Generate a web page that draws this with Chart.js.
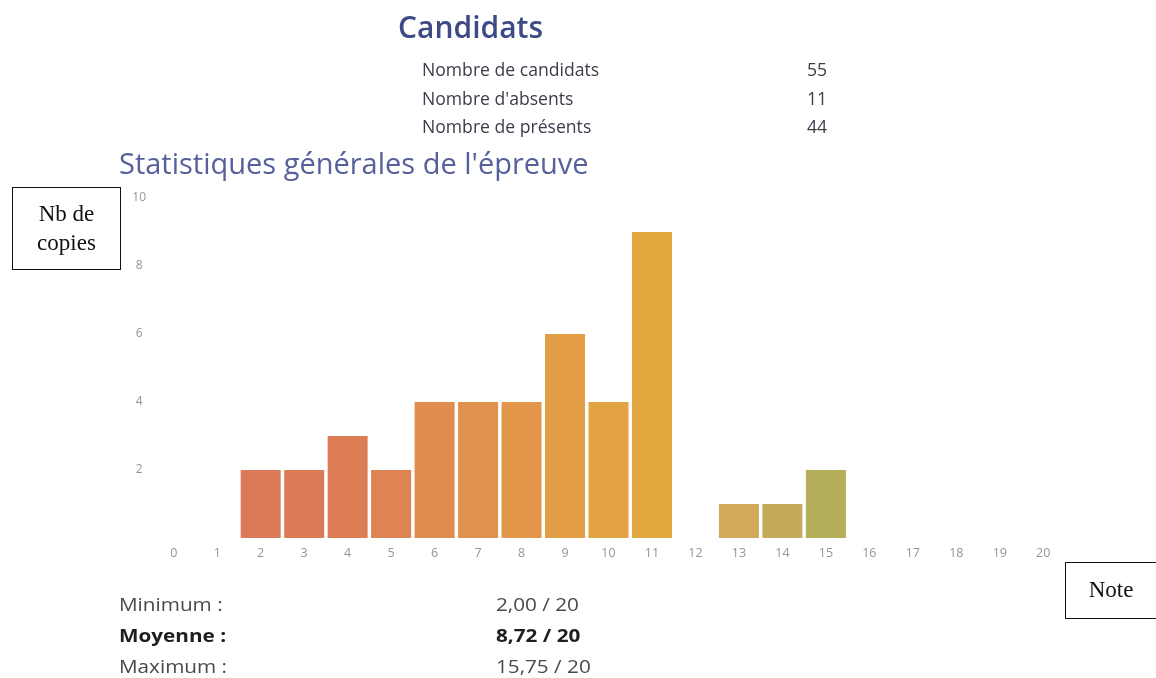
<!DOCTYPE html>
<html>
<head>
<meta charset="utf-8">
<script src="https://cdn.jsdelivr.net/npm/chart.js@4/dist/chart.umd.min.js"></script>
<style>
  html, body { margin:0; padding:0; background:#fff; }
  body { width:1156px; height:678px; position:relative; overflow:hidden; font-family:"Open Sans", sans-serif; }
  #wrap { position:absolute; left:0; top:0; width:1156px; height:678px; }
  .t { position:absolute; white-space:nowrap; line-height:1; transform-origin:0 50%; }
  .w { transform:scaleX(1.15); }
  .box { position:absolute; border:1.5px solid #111; box-sizing:border-box; font-family:"Liberation Serif", serif; color:#111; font-size:23px; text-align:center; display:flex; align-items:center; justify-content:center; line-height:1.22; }
</style>
</head>
<body>
<div id="wrap"><canvas id="c" width="1156" height="678"></canvas></div>

<div class="t" style="left:398px; top:12px; font-size:30px; font-weight:600; color:#3d4a85;">Candidats</div>

<div class="t" style="left:422px; top:61px; font-size:17.6px; color:#3a3d4a;">Nombre de candidats</div>
<div class="t" style="left:422px; top:90px; font-size:17.6px; color:#3a3d4a;">Nombre d'absents</div>
<div class="t" style="left:422px; top:118px; font-size:17.6px; color:#3a3d4a;">Nombre de présents</div>
<div class="t" style="right:329px; top:61px; font-size:17.6px; color:#3a3d4a; transform-origin:100% 50%;">55</div>
<div class="t" style="right:329px; top:90px; font-size:17.6px; color:#3a3d4a; transform-origin:100% 50%;">11</div>
<div class="t" style="right:329px; top:118px; font-size:17.6px; color:#3a3d4a; transform-origin:100% 50%;">44</div>

<div class="t" style="left:119px; top:148px; font-size:29px; color:#56609a;">Statistiques générales de l'épreuve</div>

<div class="box" style="left:12px; top:187px; width:109px; height:83px;">Nb de<br>copies</div>
<div class="box" style="left:1065px; top:562px; width:92px; height:57px;">Note</div>

<div class="t w" style="left:119px; top:595px; font-size:18px; color:#4a4a4a;">Minimum :</div>
<div class="t w" style="left:119px; top:626px; font-size:18px; font-weight:700; color:#1e1e1e;">Moyenne :</div>
<div class="t w" style="left:119px; top:657px; font-size:18px; color:#4a4a4a;">Maximum :</div>
<div class="t w" style="left:496px; top:595px; font-size:18px; color:#4a4a4a;">2,00 / 20</div>
<div class="t w" style="left:496px; top:626px; font-size:18px; font-weight:700; color:#1e1e1e;">8,72 / 20</div>
<div class="t w" style="left:496px; top:657px; font-size:18px; color:#4a4a4a;">15,75 / 20</div>

<script>
const notes = ['0','1','2','3','4','5','6','7','8','9','10','11','12','13','14','15','16','17','18','19','20'];
const nbCopies = [0,0,2,2,3,2,4,4,4,6,4,9,0,1,1,2,0,0,0,0,0];
const yTicks = [2,4,6,8,10];
const barColors = ['#dc7858','#dc7858','#db7a58','#dc7b57','#dd7d55','#de8352','#e08c4e','#e0914c','#e1964a','#e39e45','#e3a343','#e3a740','#d9a84f','#d2a957','#c6aa5b','#b5ae5a','#b0b05a','#b0b05a','#b0b05a','#b0b05a','#b0b05a'];

new Chart(document.getElementById('c'), {
  type: 'bar',
  data: {
    labels: notes,
    datasets: [{
      data: nbCopies,
      backgroundColor: barColors,
      borderWidth: 0,
      barPercentage: 0.92,
      categoryPercentage: 1.0
    }]
  },
  options: {
    responsive: false,
    devicePixelRatio: 1,
    animation: false,
    layout: { padding: { left: 100, right: 91, top: 198, bottom: 110 } },
    plugins: { legend: { display: false }, tooltip: { enabled: false }, title: { display: false } },
    scales: {
      x: {
        grid: { display: false, drawTicks: false },
        border: { display: false },
        ticks: { color: '#959595', font: { family: 'Open Sans', size: 12.5 }, padding: 8, maxRotation: 0, autoSkip: false },
        afterFit: (s) => { s.height = 30; }
      },
      y: {
        min: 0, max: 10,
        grid: { display: false, drawTicks: false },
        border: { display: false },
        afterBuildTicks: (s) => { s.ticks = yTicks.map(v => ({ value: v })); },
        ticks: { color: '#959595', font: { family: 'Open Sans', size: 12 }, padding: 6, crossAlign: 'center' },
        afterFit: (s) => { s.width = 52; }
      }
    }
  }
});
</script>
</body>
</html>
